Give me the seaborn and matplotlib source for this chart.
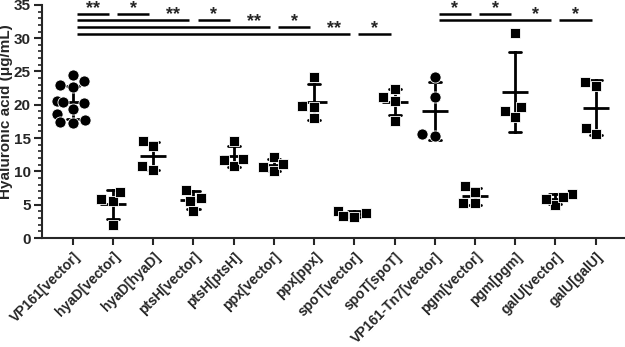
import matplotlib
matplotlib.use("Agg")
import matplotlib.pyplot as plt
import seaborn as sns
import pandas as pd
from matplotlib.ticker import MultipleLocator

categories = [
    "VP161[vector]", "hyaD[vector]", "hyaD[hyaD]", "ptsH[vector]", "ptsH[ptsH]",
    "ppx[vector]", "ppx[ppx]", "spoT[vector]", "spoT[spoT]", "VP161-Tn7[vector]",
    "pgm[vector]", "pgm[pgm]", "galU[vector]", "galU[galU]",
]
circle_groups = ["VP161[vector]", "VP161-Tn7[vector]"]

vp161_vector = [24.4, 23.5, 22.9, 22.6, 20.6, 20.4, 20.2, 19.3, 18.6, 17.7, 17.4, 17.2]
hyad_vector = [5.5, 6.9, 5.8, 2.0]
hyad_hyad = [13.8, 14.5, 10.2, 10.8]
ptsh_vector = [6.0, 7.2, 5.6, 4.0]
ptsh_ptsh = [14.6, 10.8, 11.9, 11.7]
ppx_vector = [10.1, 12.1, 10.6, 11.1]
ppx_ppx = [24.2, 19.8, 19.7, 18.0]
spot_vector = [4.1, 3.2, 3.7, 3.3]
spot_spot = [21.1, 22.3, 20.6, 17.6]
tn7_vector = [24.2, 21.2, 15.3, 15.6]
pgm_vector = [6.9, 7.8, 5.2, 5.2]
pgm_pgm = [30.8, 19.6, 18.1, 19.0]
galu_vector = [6.6, 4.9, 5.9, 6.2]
galu_galu = [22.8, 23.4, 15.6, 16.5]

all_values = [vp161_vector, hyad_vector, hyad_hyad, ptsh_vector, ptsh_ptsh,
              ppx_vector, ppx_ppx, spot_vector, spot_spot, tn7_vector,
              pgm_vector, pgm_pgm, galu_vector, galu_galu]

# significance comparisons: (first group, second group), label, bar height
comparisons = [(0, 1), (1, 2), (0, 3), (3, 4), (0, 5), (5, 6), (0, 7), (7, 8),
               (9, 10), (10, 11), (9, 12), (12, 13)]
stars = ["**", "*", "**", "*", "**", "*", "**", "*", "*", "*", "*", "*"]
bar_levels = [33.7, 33.7, 32.7, 32.7, 31.7, 31.7, 30.7, 30.7, 33.6, 33.6, 32.7, 32.7]

rows = []
for name, vals in zip(categories, all_values):
    for v in vals:
        rows.append({"group": name, "value": v})
df = pd.DataFrame(rows)
df_circ = df[df["group"].isin(circle_groups)]
df_sq = df[~df["group"].isin(circle_groups)]

sns.set_style("ticks")
plt.rcParams["font.family"] = ["Liberation Sans", "DejaVu Sans"]
plt.rcParams["font.weight"] = "bold"

fig = plt.figure(figsize=(6.25, 3.47), dpi=100)
ax = fig.add_axes([0.067, 0.314, 0.933, 0.672])

sns.pointplot(data=df, x="group", y="value", order=categories, errorbar="sd",
              color="black", capsize=0.3, linestyle="none", marker="_",
              markersize=19, markeredgewidth=2, err_kws={"linewidth": 2}, ax=ax)
sns.swarmplot(data=df_sq, x="group", y="value", order=categories, marker="s",
              color="black", size=7.5, edgecolor="white", linewidth=0.6, ax=ax)
sns.swarmplot(data=df_circ, x="group", y="value", order=categories, marker="o",
              color="black", size=8, edgecolor="white", linewidth=0.6, ax=ax)

for (a, b), s, lvl in zip(comparisons, stars, bar_levels):
    ax.plot([a + 0.1, b - 0.1], [lvl, lvl], color="black", lw=1.8,
            solid_capstyle="butt", clip_on=False)
    ax.text(b - 0.5, lvl + 0.1, s, ha="center", va="baseline", fontsize=13,
            fontweight="bold", clip_on=False)

ax.set_ylim(0, 35)
ax.set_xlim(-0.77, 13.73)
ax.yaxis.set_major_locator(MultipleLocator(5))
ax.yaxis.set_minor_locator(MultipleLocator(1))
ax.tick_params(axis="y", which="major", length=6, width=1.5, labelsize=11, pad=2)
ax.tick_params(axis="y", which="minor", length=3, width=1.2)
ax.tick_params(axis="x", length=5, width=1.5, labelsize=10)
for lab in ax.get_xticklabels():
    lab.set_rotation(45)
    lab.set_ha("right")
    lab.set_rotation_mode("anchor")
    lab.set_fontweight("bold")
for lab in ax.get_yticklabels():
    lab.set_fontweight("bold")
ax.set_xlabel("")
ax.set_ylabel("Hyaluronic acid (μg/mL)", fontsize=11, fontweight="bold")
ax.yaxis.set_label_coords(-0.05, 0.54)
sns.despine(ax=ax)
for sp in ("left", "bottom"):
    ax.spines[sp].set_linewidth(1.5)

fig.savefig("out.png", dpi=100)
